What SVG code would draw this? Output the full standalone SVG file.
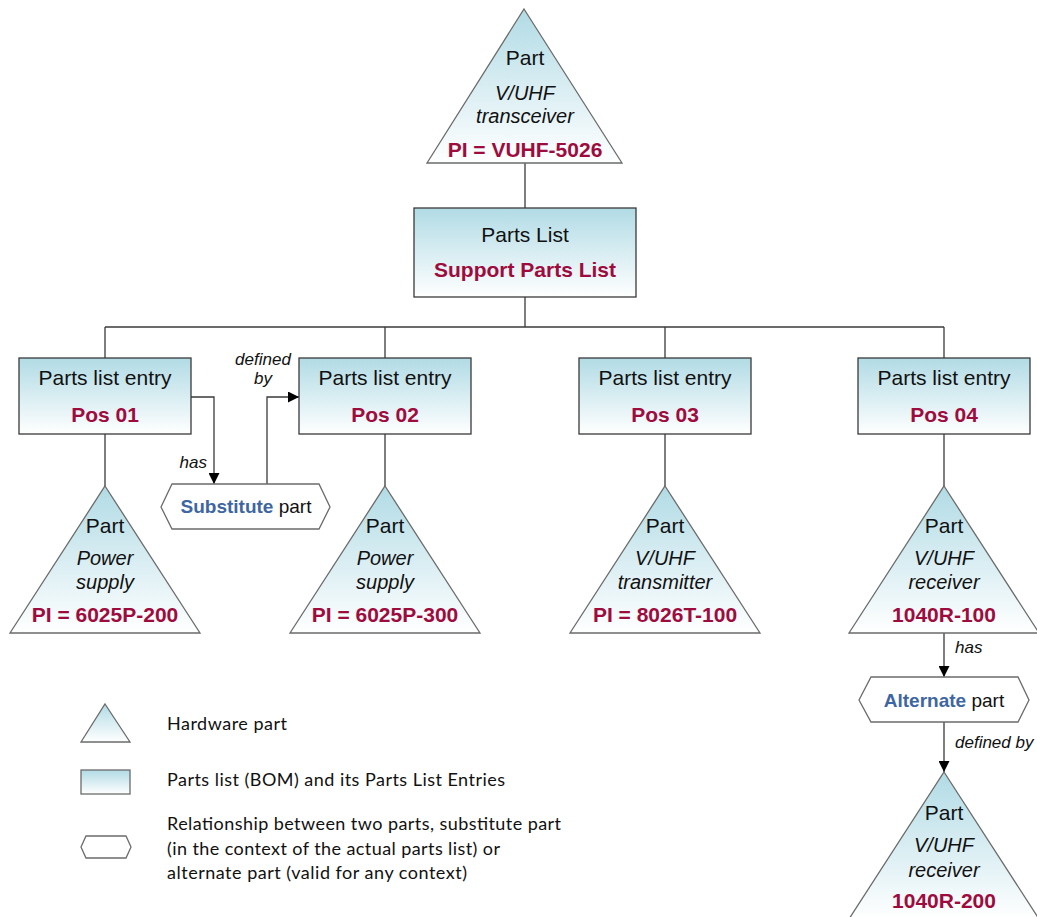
<svg xmlns="http://www.w3.org/2000/svg" width="1037" height="917" viewBox="0 0 1037 917">
  <defs>
    <linearGradient id="fillBlue" x1="0" y1="0" x2="0" y2="1">
      <stop offset="0" stop-color="#b1dbe5"/>
      <stop offset="1" stop-color="#ffffff"/>
    </linearGradient>
    <marker id="arrow" viewBox="0 0 10 10" refX="10" refY="5" markerWidth="11" markerHeight="11" markerUnits="userSpaceOnUse" orient="auto">
      <path d="M0,0 L10,5 L0,10 Z" fill="#000"/>
    </marker>
    <!-- part triangle, apex at origin -->
    <polygon id="partTri" points="0,0 95,147 -95,147"/>
  </defs>
  <style>
    .tri { fill: url(#fillBlue); stroke: #6b6b6b; stroke-width: 1.3; }
    .box { fill: url(#fillBlue); stroke: #3a3a3a; stroke-width: 1.3; }
    .hex { fill: #ffffff; stroke: #6b6b6b; stroke-width: 1.3; }
    .wire { fill: none; stroke: #3a3a3a; stroke-width: 1.3; }
    .t { font-family: "Liberation Sans", Arial, sans-serif; text-anchor: middle; fill: #111; }
    .title { font-size: 21px; }
    .desc { font-size: 20px; font-style: italic; }
    .id { font-size: 21px; font-weight: bold; fill: #9e0c3e; }
    .rel { font-size: 19px; }
    .relkey { font-weight: bold; fill: #3d66a2; }
    .lbl { font-family: "Liberation Sans", Arial, sans-serif; font-size: 17px; font-style: italic; fill: #111; }
    .leg { font-family: Lato, "Liberation Sans", sans-serif; font-size: 18px; fill: #111; }
  </style>

  <!-- connectors -->
  <g id="connectors">
    <line class="wire" x1="525" y1="163" x2="525" y2="208"/>
    <line class="wire" x1="525" y1="297" x2="525" y2="327"/>
    <line class="wire" x1="105" y1="327" x2="944" y2="327"/>
    <line class="wire" x1="105" y1="327" x2="105" y2="358"/>
    <line class="wire" x1="385" y1="327" x2="385" y2="358"/>
    <line class="wire" x1="665" y1="327" x2="665" y2="358"/>
    <line class="wire" x1="944" y1="327" x2="944" y2="358"/>
    <line class="wire" x1="105" y1="434" x2="105" y2="486"/>
    <line class="wire" x1="385" y1="434" x2="385" y2="486"/>
    <line class="wire" x1="665" y1="434" x2="665" y2="486"/>
    <line class="wire" x1="944" y1="434" x2="944" y2="486"/>
    <path class="wire" d="M191,397 H214 V484" marker-end="url(#arrow)"/>
    <path class="wire" d="M267,484 V397 H299" marker-end="url(#arrow)"/>
    <path class="wire" d="M944,633 V677" marker-end="url(#arrow)"/>
    <path class="wire" d="M944,722 V772" marker-end="url(#arrow)"/>
    <text class="lbl" x="207" y="468" text-anchor="end">has</text>
    <text class="lbl" x="263" y="365" text-anchor="middle">defined</text>
    <text class="lbl" x="263" y="384" text-anchor="middle">by</text>
    <text class="lbl" x="955" y="653">has</text>
    <text class="lbl" x="955" y="748">defined by</text>
  </g>

  <!-- top-level part -->
  <g id="part-vuhf-5026">
    <polygon class="tri" points="524,9 622,163 427,163"/>
    <text class="t title" x="525" y="65">Part</text>
    <text class="t desc" x="525" y="100">V/UHF</text>
    <text class="t desc" x="525" y="123">transceiver</text>
    <text class="t id" x="525" y="157">PI = VUHF-5026</text>
  </g>

  <g id="parts-list">
    <rect class="box" x="414" y="208" width="222" height="89"/>
    <text class="t title" x="525" y="242">Parts List</text>
    <text class="t id" x="525" y="277">Support Parts List</text>
  </g>

  <!-- parts list entries -->
  <g id="entry-pos01">
    <rect class="box" x="19" y="358" width="172" height="76"/>
    <text class="t title" x="105" y="385">Parts list entry</text>
    <text class="t id" x="105" y="422">Pos 01</text>
  </g>
  <g id="entry-pos02">
    <rect class="box" x="299" y="358" width="172" height="76"/>
    <text class="t title" x="385" y="385">Parts list entry</text>
    <text class="t id" x="385" y="422">Pos 02</text>
  </g>
  <g id="entry-pos03">
    <rect class="box" x="579" y="358" width="172" height="76"/>
    <text class="t title" x="665" y="385">Parts list entry</text>
    <text class="t id" x="665" y="422">Pos 03</text>
  </g>
  <g id="entry-pos04">
    <rect class="box" x="858" y="358" width="172" height="76"/>
    <text class="t title" x="944" y="385">Parts list entry</text>
    <text class="t id" x="944" y="422">Pos 04</text>
  </g>

  <!-- parts referenced by entries -->
  <g id="part-6025p-200">
    <use href="#partTri" class="tri" x="105" y="486"/>
    <text class="t title" x="105" y="533">Part</text>
    <text class="t desc" x="105" y="565">Power</text>
    <text class="t desc" x="105" y="589">supply</text>
    <text class="t id" x="105" y="622">PI = 6025P-200</text>
  </g>
  <g id="part-6025p-300">
    <use href="#partTri" class="tri" x="385" y="486"/>
    <text class="t title" x="385" y="533">Part</text>
    <text class="t desc" x="385" y="565">Power</text>
    <text class="t desc" x="385" y="589">supply</text>
    <text class="t id" x="385" y="622">PI = 6025P-300</text>
  </g>
  <g id="part-8026t-100">
    <use href="#partTri" class="tri" x="665" y="486"/>
    <text class="t title" x="665" y="533">Part</text>
    <text class="t desc" x="665" y="565">V/UHF</text>
    <text class="t desc" x="665" y="589">transmitter</text>
    <text class="t id" x="665" y="622">PI = 8026T-100</text>
  </g>
  <g id="part-1040r-100">
    <use href="#partTri" class="tri" x="944" y="486"/>
    <text class="t title" x="944" y="533">Part</text>
    <text class="t desc" x="944" y="565">V/UHF</text>
    <text class="t desc" x="944" y="589">receiver</text>
    <text class="t id" x="944" y="622">1040R-100</text>
  </g>

  <!-- relationships -->
  <g id="substitute-part">
    <polygon class="hex" points="161,507 172,484 319,484 330,507 319,529 172,529"/>
    <text class="t rel" x="246" y="513"><tspan class="relkey">Substitute</tspan> part</text>
  </g>
  <g id="alternate-part">
    <polygon class="hex" points="859,700 871,677 1018,677 1029,700 1018,722 871,722"/>
    <text class="t rel" x="944" y="707"><tspan class="relkey">Alternate</tspan> part</text>
  </g>

  <g id="part-1040r-200">
    <use href="#partTri" class="tri" x="944" y="772"/>
    <text class="t title" x="944" y="820">Part</text>
    <text class="t desc" x="944" y="852">V/UHF</text>
    <text class="t desc" x="944" y="877">receiver</text>
    <text class="t id" x="944" y="908">1040R-200</text>
  </g>

  <!-- legend -->
  <g id="legend">
    <polygon class="tri" points="105,704 130,742 81,742"/>
    <text class="leg" x="167" y="730" textLength="120">Hardware part</text>
    <rect class="box" x="81" y="770" width="49" height="24" style="stroke:#6b6b6b"/>
    <text class="leg" x="167" y="786" textLength="338">Parts list (BOM) and its Parts List Entries</text>
    <polygon class="hex" points="81,847 86,836 126,836 131,847 126,858 86,858"/>
    <text class="leg" x="167" y="830" textLength="394">Relationship between two parts, substitute part</text>
    <text class="leg" x="167" y="855" textLength="333">(in the context of the actual parts list) or</text>
    <text class="leg" x="167" y="879" textLength="300">alternate part (valid for any context)</text>
  </g>
</svg>
